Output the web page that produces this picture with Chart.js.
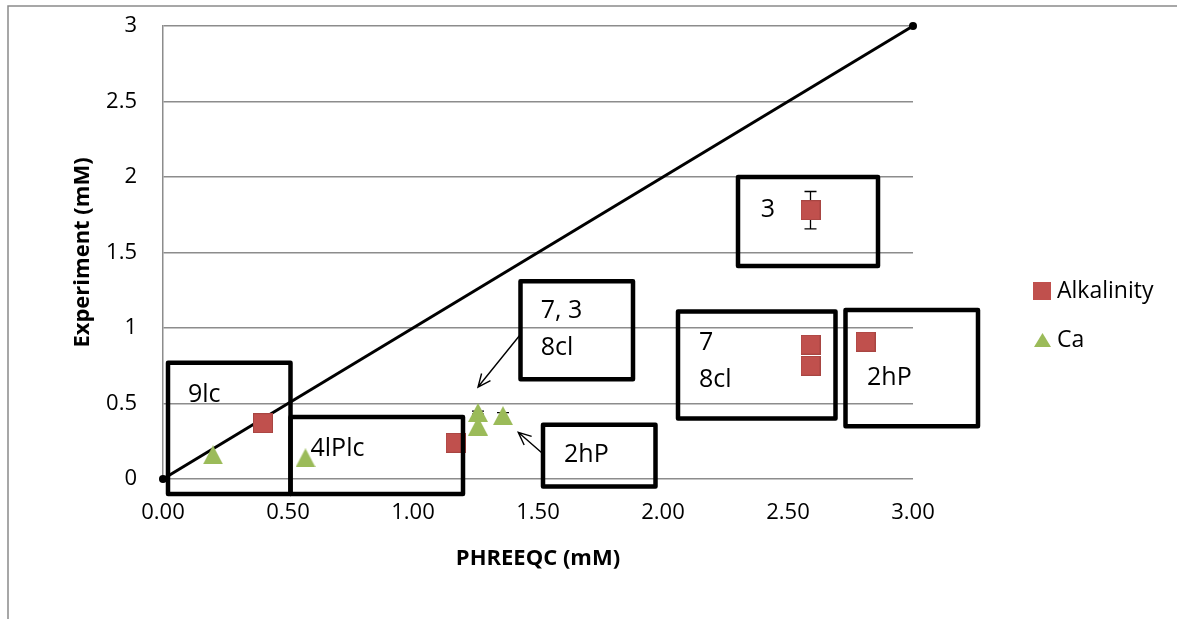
<!DOCTYPE html>
<html><head><meta charset="utf-8">
<script src="https://cdn.jsdelivr.net/npm/chart.js@4.4.1/dist/chart.umd.min.js"></script>
<style>html,body{margin:0;padding:0;background:#fff}canvas{display:block}</style>
</head><body>
<canvas id="c" width="1177" height="619"></canvas>
<script>
// ---- data ----
const tickValues = [0, 0.5, 1, 1.5, 2, 2.5, 3];
const xTickLabels = ['0.00', '0.50', '1.00', '1.50', '2.00', '2.50', '3.00'];
const yTickLabels = ['0', '0.5', '1', '1.5', '2', '2.5', '3'];

const alkalinityX = [0.40, 1.17, 2.59, 2.59, 2.59, 2.81];
const alkalinityY = [0.37, 0.24, 1.78, 0.89, 0.75, 0.91];
const alkalinityErr = [0, 0, 0.124, 0, 0, 0];

const caX = [0.20, 0.57, 1.26, 1.26, 1.36];
const caY = [0.16, 0.14, 0.44, 0.35, 0.42];
const caErr = [0, 0, 0.01, 0, 0.02];

const oneToOneX = [0, 3];
const oneToOneY = [0, 3];

const seriesNames = ['Alkalinity', 'Ca'];

// annotation boxes (data units) and their labels
const boxLeft   = [0.02, 0.51, 1.43, 1.52, 2.30, 2.06, 2.73];
const boxRight  = [0.51, 1.20, 1.88, 1.97, 2.86, 2.69, 3.26];
const boxTop    = [0.77, 0.41, 1.31, 0.36, 2.00, 1.11, 1.12];
const boxBottom = [-0.10, -0.10, 0.66, -0.05, 1.41, 0.40, 0.35];
const boxLines  = [['9lc'], ['4lPlc'], ['7, 3', '8cl'], ['2hP'], ['3'], ['7', '8cl'], ['2hP']];
const boxTextX  = [0.10, 0.59, 1.511, 1.604, 2.391, 2.144, 2.816];
const boxTextY  = [0.512, 0.152, 1.064, 0.115, 1.733, 0.854, 0.623];
// arrows: from -> to (data units)
const arrowFromX = [1.428, 1.515];
const arrowFromY = [0.954, 0.174];
const arrowToX   = [1.26, 1.421];
const arrowToY   = [0.609, 0.309];

// ---- styles ----
const RED = '#C0504D', GREEN = '#9BBB59', GRID = '#8c8c8c';
const FONT = "'Open Sans', 'Noto Sans', sans-serif";

function squareStyle(size, color) {
  const c = document.createElement('canvas'); c.width = size; c.height = size;
  const g = c.getContext('2d'); g.fillStyle = color; g.fillRect(0, 0, size, size);
  g.strokeStyle = '#a84542'; g.lineWidth = 1; g.strokeRect(0.5, 0.5, size - 1, size - 1); return c;
}
function triangleStyle(w, h, color) {
  const c = document.createElement('canvas'); c.width = w; c.height = h;
  const g = c.getContext('2d'); g.fillStyle = color;
  g.beginPath(); g.moveTo(w / 2, 0); g.lineTo(w, h); g.lineTo(0, h); g.closePath(); g.fill(); return c;
}
const sqStyle = squareStyle(20, RED);
const triStyle = triangleStyle(20, 19, GREEN);

const zip = (xs, ys) => xs.map((x, i) => ({x, y: ys[i]}));

const bgPlugin = {
  id: 'bg',
  beforeDraw(chart) {
    const ctx = chart.ctx;
    ctx.save();
    ctx.fillStyle = '#fff'; ctx.fillRect(0, 0, chart.width, chart.height);
    ctx.strokeStyle = '#8a8a8a'; ctx.lineWidth = 1.5;
    ctx.beginPath(); ctx.moveTo(8, chart.height + 2); ctx.lineTo(8, 6); ctx.lineTo(chart.width + 2, 6); ctx.stroke();
    ctx.restore();
  }
};

const errPlugin = {
  id: 'errbars',
  beforeDatasetsDraw(chart) {
    const ctx = chart.ctx, xs = chart.scales.x, ys = chart.scales.y;
    ctx.save(); ctx.strokeStyle = '#000'; ctx.lineWidth = 1.3;
    chart.data.datasets.forEach(ds => {
      if (!ds.errors) return;
      ds.data.forEach((p, i) => {
        const e = ds.errors[i]; if (!e) return;
        const px = xs.getPixelForValue(p.x);
        const y1 = ys.getPixelForValue(p.y + e), y2 = ys.getPixelForValue(p.y - e);
        ctx.beginPath();
        ctx.moveTo(px, y1); ctx.lineTo(px, y2);
        ctx.moveTo(px - 6, y1); ctx.lineTo(px + 6, y1);
        ctx.moveTo(px - 6, y2); ctx.lineTo(px + 6, y2);
        ctx.stroke();
      });
    });
    ctx.restore();
  }
};

const annPlugin = {
  id: 'annotations',
  afterDatasetsDraw(chart) {
    const ctx = chart.ctx, xs = chart.scales.x, ys = chart.scales.y;
    const X = v => xs.getPixelForValue(v), Y = v => ys.getPixelForValue(v);
    ctx.save();
    // arrows
    ctx.strokeStyle = '#000'; ctx.lineWidth = 1.4;
    arrowFromX.forEach((_, i) => {
      const x1 = X(arrowFromX[i]), y1 = Y(arrowFromY[i]), x2 = X(arrowToX[i]), y2 = Y(arrowToY[i]);
      const a = Math.atan2(y2 - y1, x2 - x1), L = 14, s = 0.42;
      ctx.beginPath(); ctx.moveTo(x1, y1); ctx.lineTo(x2, y2);
      ctx.moveTo(x2 - L * Math.cos(a - s), y2 - L * Math.sin(a - s)); ctx.lineTo(x2, y2);
      ctx.lineTo(x2 - L * Math.cos(a + s), y2 - L * Math.sin(a + s));
      ctx.stroke();
    });
    // boxes
    ctx.lineWidth = 4.5; ctx.lineJoin = 'round'; ctx.strokeStyle = '#000';
    boxLeft.forEach((_, i) => {
      const l = X(boxLeft[i]), r = X(boxRight[i]), t = Y(boxTop[i]), b = Y(boxBottom[i]);
      ctx.strokeRect(l, t, r - l, b - t);
    });
    // texts
    ctx.fillStyle = '#000'; ctx.font = '25px ' + FONT; ctx.textBaseline = 'alphabetic'; ctx.textAlign = 'left';
    boxLines.forEach((lines, i) => {
      lines.forEach((ln, j) => ctx.fillText(ln, X(boxTextX[i]), Y(boxTextY[i]) + j * 36.5));
    });
    ctx.restore();
  }
};

const legendPlugin = {
  id: 'customLegend',
  afterDraw(chart) {
    const ctx = chart.ctx;
    const items = [chart.data.datasets[0], chart.data.datasets[1]];
    ctx.save();
    ctx.font = '23px ' + FONT; ctx.fillStyle = '#000'; ctx.textBaseline = 'middle'; ctx.textAlign = 'left';
    // Alkalinity
    ctx.fillStyle = items[0].backgroundColor; ctx.fillRect(1033, 282, 18, 18);
    ctx.fillStyle = '#000'; ctx.fillText(items[0].label, 1057, 291);
    // Ca
    ctx.fillStyle = items[1].backgroundColor;
    ctx.beginPath(); ctx.moveTo(1042.5, 333); ctx.lineTo(1051, 347); ctx.lineTo(1034, 347); ctx.closePath(); ctx.fill();
    ctx.fillStyle = '#000'; ctx.fillText(items[1].label, 1057, 340);
    ctx.restore();
  }
};

Chart.defaults.font.family = FONT;
Chart.defaults.color = '#000';

new Chart(document.getElementById('c'), {
  type: 'scatter',
  data: {
    datasets: [
      { label: seriesNames[0], data: zip(alkalinityX, alkalinityY), errors: alkalinityErr,
        backgroundColor: RED, borderColor: RED, pointStyle: sqStyle, pointRadius: 10 },
      { label: seriesNames[1], data: zip(caX, caY), errors: caErr,
        backgroundColor: GREEN, borderColor: GREEN, pointStyle: triStyle, pointRadius: 10 },
      { label: '1:1', data: zip(oneToOneX, oneToOneY), showLine: true, borderColor: '#000',
        borderWidth: 3, backgroundColor: '#000', pointRadius: 4, pointBackgroundColor: '#000',
        pointBorderWidth: 0, clip: false }
    ]
  },
  options: {
    responsive: false,
    animation: false,
    events: [],
    layout: { padding: { left: 70, top: 26, right: 264, bottom: 47 } },
    plugins: { legend: { display: false }, tooltip: { enabled: false } },
    scales: {
      x: {
        type: 'linear', min: 0, max: 3,
        afterBuildTicks: s => { s.ticks = tickValues.map(v => ({value: v})); },
        ticks: { padding: 21, font: { size: 22 }, color: '#000',
          callback: v => xTickLabels[tickValues.indexOf(v)] },
        grid: { display: false, drawTicks: false },
        border: { display: false },
        title: { display: true, text: 'PHREEQC (mM)', color: '#000', font: { size: 22, weight: 'bold' }, padding: 0 },
        afterFit: s => { s.height = 93; s.paddingLeft = 0; s.paddingRight = 0; }
      },
      y: {
        type: 'linear', min: 0, max: 3,
        afterBuildTicks: s => { s.ticks = tickValues.map(v => ({value: v})); },
        ticks: { padding: 26, font: { size: 22 }, color: '#000',
          callback: v => yTickLabels[tickValues.indexOf(v)] },
        grid: { color: GRID, lineWidth: 1.5, drawTicks: false },
        border: { display: true, color: GRID, width: 1.5 },
        title: { display: true, text: 'Experiment (mM)', color: '#000', font: { size: 22, weight: 'bold' }, padding: 0 },
        afterFit: s => { s.width = 93; s.paddingTop = 0; s.paddingBottom = 0; }
      }
    }
  },
  plugins: [bgPlugin, errPlugin, annPlugin, legendPlugin]
});
</script>
</body></html>
